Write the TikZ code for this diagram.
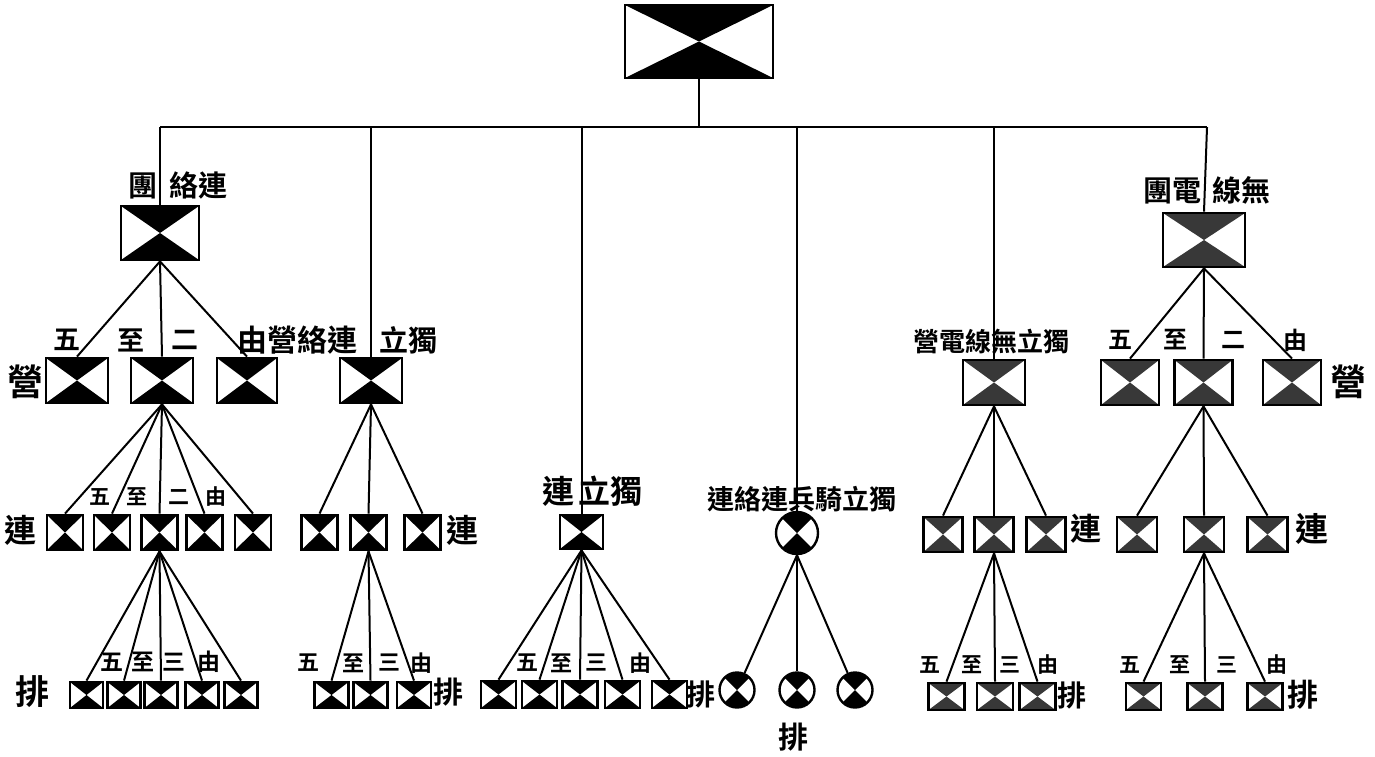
\documentclass[tikz,border=0pt]{standalone}
\usepackage{fontspec}
\newfontfamily\cjk{Noto Sans CJK TC}[BoldFont={Noto Sans CJK TC Bold}]
\definecolor{rd}{gray}{0.22}
\newcommand\hgfill[1]{%
  \fill[#1] (path picture bounding box.north west) -- (path picture bounding box.north east) -- (path picture bounding box.center) -- cycle;
  \fill[#1] (path picture bounding box.south west) -- (path picture bounding box.south east) -- (path picture bounding box.center) -- cycle;}
\tikzset{
  box/.style={draw, rectangle, line width=2.8pt, inner sep=0pt, path picture={\hgfill{black}}},
  rbox/.style={draw, rectangle, line width=2.8pt, inner sep=0pt, path picture={\hgfill{rd}}},
  circ/.style={draw, circle, line width=2.4pt, inner sep=0pt, path picture={\hgfill{black}}},
  link/.style={line width=2pt},
  lab/.style={inner sep=0pt, font=\cjk\bfseries\fontsize{#1}{#1}\selectfont},
}
\begin{document}
\begin{tikzpicture}[x=1pt,y=-1pt]
\useasboundingbox[fill=white] (0,0) rectangle (1375,756);

% ---------- top
\node[box, minimum width=148, minimum height=73] (top) at (699,41.5) {};
\coordinate (barL) at (160,127);
\coordinate (barR) at (1207,127);

% ---------- left: liaison regiment
\node[box, minimum width=78, minimum height=54] (reg1) at (160,233) {};
\node[lab=29] (reg1lab) at (178,185) {團\hspace{13pt}絡連};
\node[box, minimum width=62, minimum height=45] (b1a) at (77,380.5) {};
\node[box, minimum width=62, minimum height=45] (b1b) at (162,380.5) {};
\node[box, minimum width=60, minimum height=45] (b1c) at (247,380.5) {};
\node[lab=36] (ying1) at (25,382) {營};
\node[lab=27] (l2a) at (67,340) {五};
\node[lab=27] (l2b) at (131,340) {至};
\node[lab=27] (l2c) at (185,340) {二};
\node[lab=30] (l2d) at (297,340) {由營絡連};
\node[lab=29] (l2e) at (408,340) {立獨};

\foreach \i/\x in {1/65,2/112,3/159.5,4/204.5,5/253}
  \node[box, minimum width=36, minimum height=35] (c\i) at (\x,532.5) {};
\node[lab=32] (lian1) at (21,530) {連};
\node[lab=21] (l3a) at (100,497) {五};
\node[lab=21] (l3b) at (137,497) {至};
\node[lab=21] (l3c) at (179,497) {二};
\node[lab=21] (l3d) at (216,497) {由};

\foreach \i/\x in {1/86.5,2/124,3/161,4/202,5/241}
  \node[box, minimum width=33, minimum height=26] (p\i) at (\x,695) {};
\node[lab=34] (pai1) at (32,692) {排};
\node[lab=23] (l4a) at (112,662) {五};
\node[lab=23] (l4b) at (143,662) {至};
\node[lab=23] (l4c) at (174,662) {三};
\node[lab=23] (l4d) at (209,662) {由};

% ---------- independent liaison battalion
\node[box, minimum width=62, minimum height=45] (ib) at (371,380.5) {};
\foreach \i/\x in {1/319.5,2/368.5,3/422.5}
  \node[box, minimum width=36, minimum height=35] (ic\i) at (\x,532.5) {};
\node[lab=32] (lian2) at (462,530) {連};
\foreach \i/\x in {1/331.5,2/370.5,3/414}
  \node[box, minimum width=34, minimum height=26] (ip\i) at (\x,695) {};
\node[lab=30] (pai2) at (448,692) {排};
\node[lab=22] (l5a) at (308,663) {五};
\node[lab=22] (l5b) at (353,663) {至};
\node[lab=22] (l5c) at (389,663) {三};
\node[lab=22] (l5d) at (421,663) {由};

% ---------- independent company
\node[box, minimum width=43, minimum height=34] (ic) at (581.5,532) {};
\node[lab=32] (iclab) at (592,491) {連\hspace{4pt}立獨};
\foreach \i/\x in {1/498.5,2/539.5,3/580,4/622.5,5/669.5}
  \node[box, minimum width=35, minimum height=27] (cp\i) at (\x,694.5) {};
\node[lab=29] (pai3) at (701,694) {排};
\node[lab=22] (l6a) at (527,663) {五};
\node[lab=22] (l6b) at (561,663) {至};
\node[lab=22] (l6c) at (596,663) {三};
\node[lab=22] (l6d) at (640,663) {由};

% ---------- independent cavalry liaison company
\node[circ, minimum size=42] (cav) at (797,533) {};
\node[lab=27] (cavlab) at (802,499) {連絡連兵騎立獨};
\foreach \i/\x in {1/737,2/797,3/855}
  \node[circ, minimum size=35] (cv\i) at (\x,690) {};
\node[lab=30] (pai4) at (793,737) {排};

% ---------- independent radio battalion
\node[rbox, minimum width=62, minimum height=45] (rib) at (994,382.5) {};
\node[lab=26] (riblab) at (991,342) {營電線無立獨};
\foreach \i/\x in {1/943,2/994,3/1046}
  \node[rbox, minimum width=39, minimum height=35] (rc\i) at (\x,534.5) {};
\node[lab=31] (lian3) at (1086,529) {連};
\foreach \i/\x in {1/946.5,2/995,3/1037.5}
  \node[rbox, minimum width=36, minimum height=27] (rp\i) at (\x,696.5) {};
\node[lab=29] (pai5) at (1072,695) {排};
\node[lab=21] (l7a) at (930,665) {五};
\node[lab=21] (l7b) at (972,665) {至};
\node[lab=21] (l7c) at (1010,665) {三};
\node[lab=21] (l7d) at (1048,665) {由};

% ---------- radio regiment
\node[rbox, minimum width=82, minimum height=54] (reg2) at (1204,240) {};
\node[lab=29] (reg2lab) at (1207,190) {團電\hspace{12pt}線無};
\foreach \i/\x in {1/1130,2/1203.5,3/1292}
  \node[rbox, minimum width=58, minimum height=45] (rb\i) at (\x,382.5) {};
\node[lab=36] (ying2) at (1348,382) {營};
\node[lab=24] (l8a) at (1120,340) {五};
\node[lab=24] (l8b) at (1175,340) {至};
\node[lab=24] (l8c) at (1233,340) {二};
\node[lab=24] (l8d) at (1295,340) {由};
\foreach \i/\x in {1/1137,2/1204,3/1267.5}
  \node[rbox, minimum width=40, minimum height=35] (Rc\i) at (\x,534.5) {};
\node[lab=33] (lian4) at (1312,529) {連};
\foreach \i/\x in {1/1143.5,2/1205,3/1265}
  \node[rbox, minimum width=35, minimum height=27] (Rp\i) at (\x,696.5) {};
\node[lab=31] (pai6) at (1303,695) {排};
\node[lab=21] (l9a) at (1130,665) {五};
\node[lab=21] (l9b) at (1180,665) {至};
\node[lab=21] (l9c) at (1227,665) {三};
\node[lab=21] (l9d) at (1277,665) {由};

% ---------- connectors
\draw[link] (top.south) -- (top.south |- barL);
\draw[link] (barL) -- (barR);
\draw[link] (barL) -- (reg1.north);
\draw[link] (ib.north |- barL) -- (ib.north);
\draw[link] (ic.north |- barL) -- (ic.north);
\draw[link] (cav.north |- barL) -- (cav.north);
\draw[link] (rib.north |- barL) -- (rib.north);
\draw[link] (barR) -- (reg2.north);

\foreach \c in {b1a,b1b,b1c} \draw[link] (reg1.south) -- (\c.north);
\foreach \c in {c1,c2,c3,c4,c5} \draw[link] (b1b.south) -- (\c.north);
\foreach \c in {p1,p2,p3,p4,p5} \draw[link] (c3.south) -- (\c.north);

\foreach \c in {ic1,ic2,ic3} \draw[link] (ib.south) -- (\c.north);
\foreach \c in {ip1,ip2,ip3} \draw[link] (ic2.south) -- (\c.north);

\foreach \c in {cp1,cp2,cp3,cp4,cp5} \draw[link] (ic.south) -- (\c.north);

\foreach \c in {cv1,cv2,cv3} \draw[link] (cav.south) -- (\c);

\foreach \c in {rc1,rc2,rc3} \draw[link] (rib.south) -- (\c.north);
\foreach \c in {rp1,rp2,rp3} \draw[link] (rc2.south) -- (\c.north);

\foreach \c in {rb1,rb2,rb3} \draw[link] (reg2.south) -- (\c.north);
\foreach \c in {Rc1,Rc2,Rc3} \draw[link] (rb2.south) -- (\c.north);
\foreach \c in {Rp1,Rp2,Rp3} \draw[link] (Rc2.south) -- (\c.north);
\end{tikzpicture}
\end{document}
